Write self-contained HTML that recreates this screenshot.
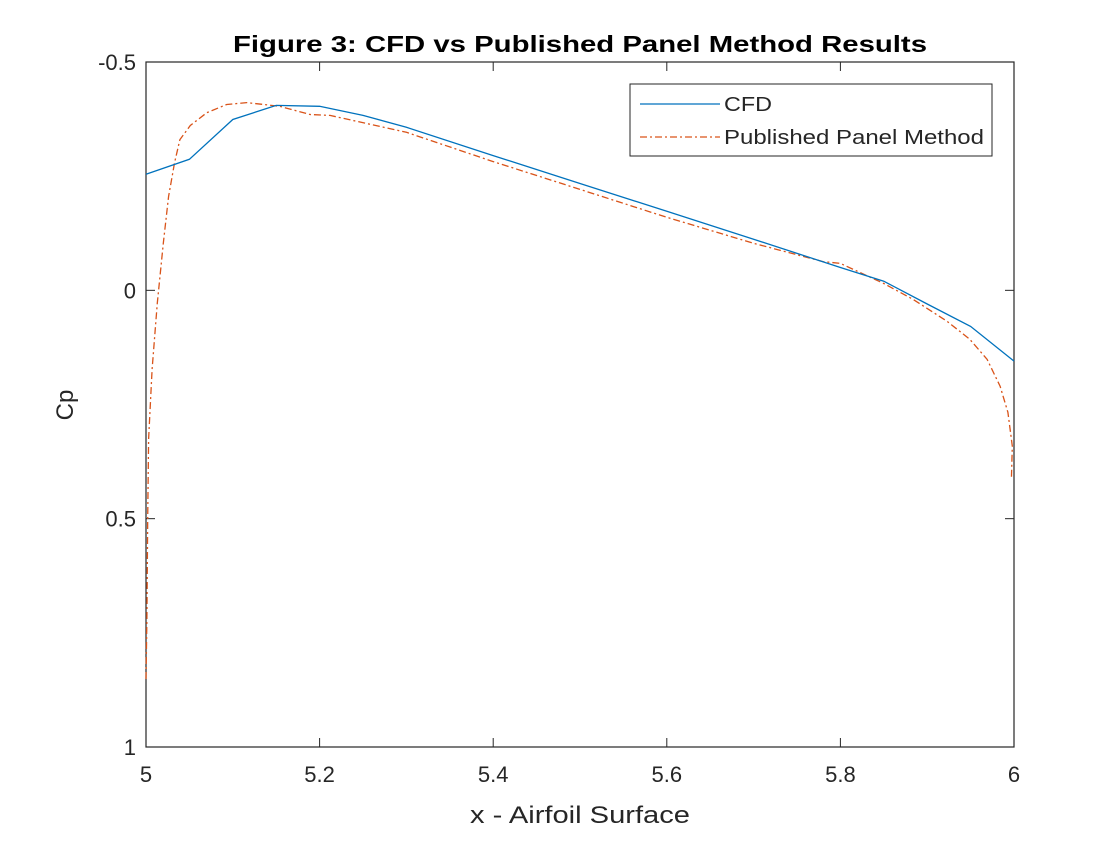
<!DOCTYPE html>
<html><head><meta charset="utf-8"><style>
body{margin:0;background:#fff;}
svg text{font-family:"Liberation Sans",Arial,sans-serif;fill:#262626;}
</style></head><body>
<svg width="1120" height="840" xmlns="http://www.w3.org/2000/svg">
<rect width="1120" height="840" fill="#fff"/>
<g id="axes"></g>
<g id="series"></g>
<text x="580" y="52" text-anchor="middle" font-size="23" font-weight="bold" textLength="694" lengthAdjust="spacingAndGlyphs" style="fill:#000">Figure 3: CFD vs Published Panel Method Results</text>
<text x="580" y="823" text-anchor="middle" font-size="24" textLength="220" lengthAdjust="spacingAndGlyphs">x - Airfoil Surface</text>
<text transform="translate(73,405) rotate(-90)" text-anchor="middle" font-size="24">Cp</text>
<g>
<rect x="630" y="84" width="362" height="72" fill="#fff" stroke="#262626" stroke-width="1"/>
<line x1="640" y1="104" x2="720" y2="104" stroke="#0072BD" stroke-width="1.3"/>
<text x="724" y="111" font-size="20" textLength="48" lengthAdjust="spacingAndGlyphs">CFD</text>
<line x1="640" y1="137" x2="720" y2="137" stroke="#D95319" stroke-width="1.3" stroke-dasharray="7,3,2,3"/>
<text x="724" y="144" font-size="20" textLength="260" lengthAdjust="spacingAndGlyphs">Published Panel Method</text>
</g>
</svg>
<script>
const xTicks=[5,5.2,5.4,5.6,5.8,6];
const xTickLabels=["5","5.2","5.4","5.6","5.8","6"];
const yTicks=[-0.5,0,0.5,1];
const yTickLabels=["-0.5","0","0.5","1"];
const cfdX=[5.0,5.05,5.1,5.15,5.2,5.25,5.3,5.4,5.5,5.6,5.7,5.8,5.85,5.9,5.95,6.0];
const cfdCp=[-0.254,-0.287,-0.374,-0.405,-0.403,-0.383,-0.357,-0.295,-0.234,-0.173,-0.112,-0.05,-0.02,0.03,0.079,0.155];
const panelX=[5.0,5.001,5.002,5.003,5.007,5.013,5.02,5.026,5.033,5.039,5.051,5.07,5.093,5.116,5.154,5.189,5.212,5.3,5.4,5.5,5.6,5.7,5.78,5.8,5.85,5.884,5.923,5.949,5.969,5.984,5.993,5.998,5.997];
const panelCp=[0.851,0.72,0.5,0.326,0.173,0.028,-0.105,-0.206,-0.28,-0.33,-0.361,-0.389,-0.407,-0.411,-0.403,-0.385,-0.383,-0.346,-0.282,-0.221,-0.16,-0.103,-0.063,-0.059,-0.015,0.02,0.068,0.107,0.151,0.21,0.267,0.341,0.414];

const L=146,R=1014,T=62,B=747;
const xS=v=>L+(v-5)/(6-5)*(R-L);
const yS=v=>T+(v+0.5)/(1.5)*(B-T);
const NS="http://www.w3.org/2000/svg";
function mk(tag,attrs,parent){const e=document.createElementNS(NS,tag);for(const k in attrs)e.setAttribute(k,attrs[k]);parent.appendChild(e);return e;}
const ax=document.getElementById('axes');
const frame=mk('rect',{x:L,y:T,width:R-L,height:B-T,fill:'none',stroke:'#262626','stroke-width':1.2},ax);


xTicks.forEach((v,i)=>{
  const x=xS(v);
  const t1=mk('line',{x1:x,y1:B,x2:x,y2:B-9,stroke:'#262626'},ax);
  
  
  const t2=mk('line',{x1:x,y1:T,x2:x,y2:T+9,stroke:'#262626'},ax);
  
  
  const lb=mk('text',{x:x,y:B+35,'text-anchor':'middle','font-size':22},ax);
  lb.textContent=xTickLabels[i];
  
  
});
yTicks.forEach((v,i)=>{
  const y=yS(v);
  const t1=mk('line',{x1:L,y1:y,x2:L+9,y2:y,stroke:'#262626'},ax);
  
  
  const t2=mk('line',{x1:R,y1:y,x2:R-9,y2:y,stroke:'#262626'},ax);
  
  
  const lb=mk('text',{x:L-10,y:y+8,'text-anchor':'end','font-size':22},ax);
  lb.textContent=yTickLabels[i];
  
  
});
const sg=document.getElementById('series');
const pts=(xs,ys)=>xs.map((v,i)=>xS(v).toFixed(1)+','+yS(ys[i]).toFixed(1)).join(' ');
const pan=mk('polyline',{points:pts(panelX,panelCp),fill:'none',stroke:'#D95319','stroke-width':1.3,'stroke-dasharray':'7,3,2,3'},sg);


const cfd=mk('polyline',{points:pts(cfdX,cfdCp),fill:'none',stroke:'#0072BD','stroke-width':1.3},sg);


</script>
</body></html>
